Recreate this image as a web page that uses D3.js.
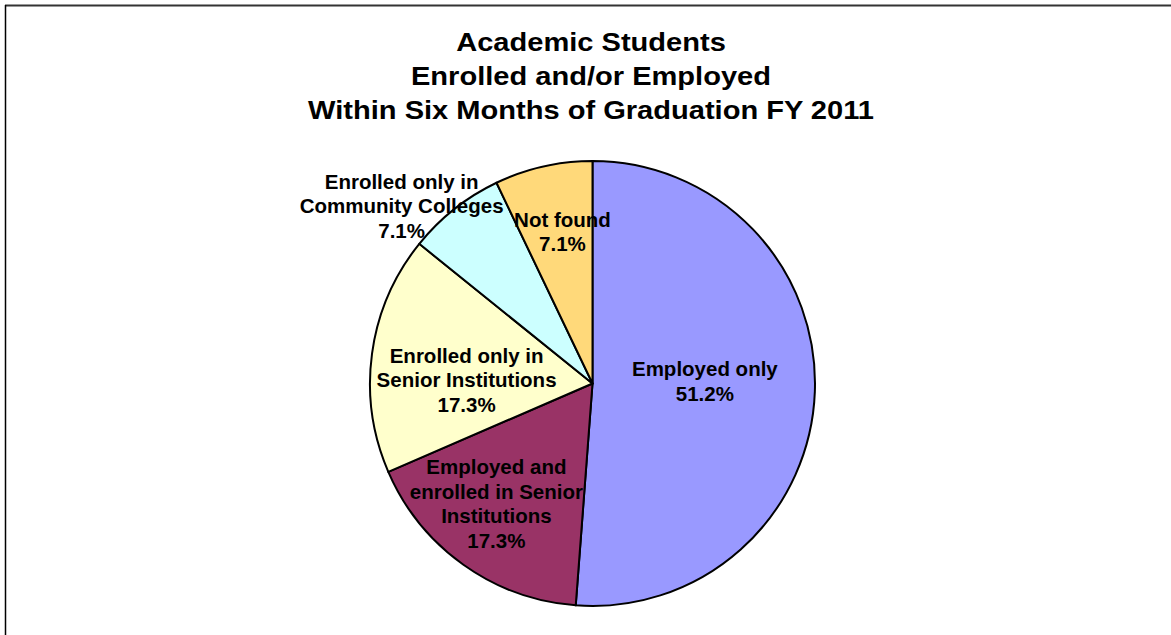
<!DOCTYPE html>
<html>
<head>
<meta charset="utf-8">
<script src="https://cdn.jsdelivr.net/npm/d3@7"></script>
<style>
  html, body { margin: 0; padding: 0; background: #fff; }
  svg { display: block; }
  text { font-family: "Liberation Sans", Arial, sans-serif; font-weight: bold; fill: #000; }
</style>
</head>
<body>
<svg id="chart" width="1171" height="635"></svg>
<script>
// Outcome categories and their shares of graduates (percent)
const categories = [
  "Employed only",
  "Employed and enrolled in Senior Institutions",
  "Enrolled only in Senior Institutions",
  "Enrolled only in Community Colleges",
  "Not found"
];
const shares = [51.2, 17.3, 17.3, 7.1, 7.1];

// Label text for each slice, split into lines
const labelLines = [
  ["Employed only"],
  ["Employed and", "enrolled in Senior", "Institutions"],
  ["Enrolled only in", "Senior Institutions"],
  ["Enrolled only in", "Community Colleges"],
  ["Not found"]
];

const titleLines = [
  "Academic Students",
  "Enrolled and/or Employed",
  "Within Six Months of Graduation FY 2011"
];

// Slice fills
const sliceColors = ["#9999FF", "#993366", "#FFFFCC", "#CCFFFF", "#FFD97A"];

// Label block centres, as fractions of the radius from the pie centre
const labelPlacement = [
  [0.505, -0.012],
  [-0.432, 0.540],
  [-0.566, -0.016],
  [-0.858, -0.800],
  [-0.135, -0.683]
];

const svg = d3.select("#chart");
const W = 1171, H = 635;

// Chart frame (top and left edges visible)
svg.append("line").attr("x1", 5).attr("x2", W).attr("y1", 5.5).attr("y2", 5.5)
  .attr("stroke", "#333").attr("stroke-width", 2);
svg.append("line").attr("x1", 5.5).attr("x2", 5.5).attr("y1", 5).attr("y2", H)
  .attr("stroke", "#000").attr("stroke-width", 1.5);

// Title, set in a slightly wide face
const title = svg.append("text")
  .attr("text-anchor", "middle")
  .attr("transform", "translate(591,0) scale(1.14,1)")
  .style("font-size", "25.5px");
titleLines.forEach((t, i) => {
  title.append("tspan").attr("x", 0).attr("y", 51.5 + i * 34).text(t);
});

// Pie
const cx = 592.5, cy = 383.5, R = 222.5;
const pie = d3.pie().sort(null).startAngle(0).endAngle(2 * Math.PI);
const arcs = pie(shares);
const arc = d3.arc().innerRadius(0).outerRadius(R);
const color = d3.scaleOrdinal().domain(categories).range(sliceColors);

const g = svg.append("g").attr("transform", `translate(${cx},${cy})`);
g.selectAll("path.slice")
  .data(arcs)
  .join("path")
  .attr("class", "slice")
  .attr("d", arc)
  .attr("fill", (d, i) => color(categories[i]))
  .attr("stroke", "#000")
  .attr("stroke-width", 2)
  .attr("stroke-linejoin", "round");

// Slice labels
const fmt = d3.format(".1f");
const lineH = 24.5;
const labels = g.selectAll("text.lbl")
  .data(arcs)
  .join("text")
  .attr("class", "lbl")
  .attr("text-anchor", "middle")
  .style("font-size", "20.5px");

labels.each(function (d, i) {
  const lines = labelLines[i].concat([fmt(d.data) + "%"]);
  const [fx, fy] = labelPlacement[i];
  const x = fx * R, y = fy * R;
  const n = lines.length;
  d3.select(this).selectAll("tspan")
    .data(lines)
    .join("tspan")
    .attr("x", x)
    .attr("y", (t, k) => y + (k - (n - 1) / 2) * lineH + 7.5)
    .text(t => t);
});
</script>
</body>
</html>
